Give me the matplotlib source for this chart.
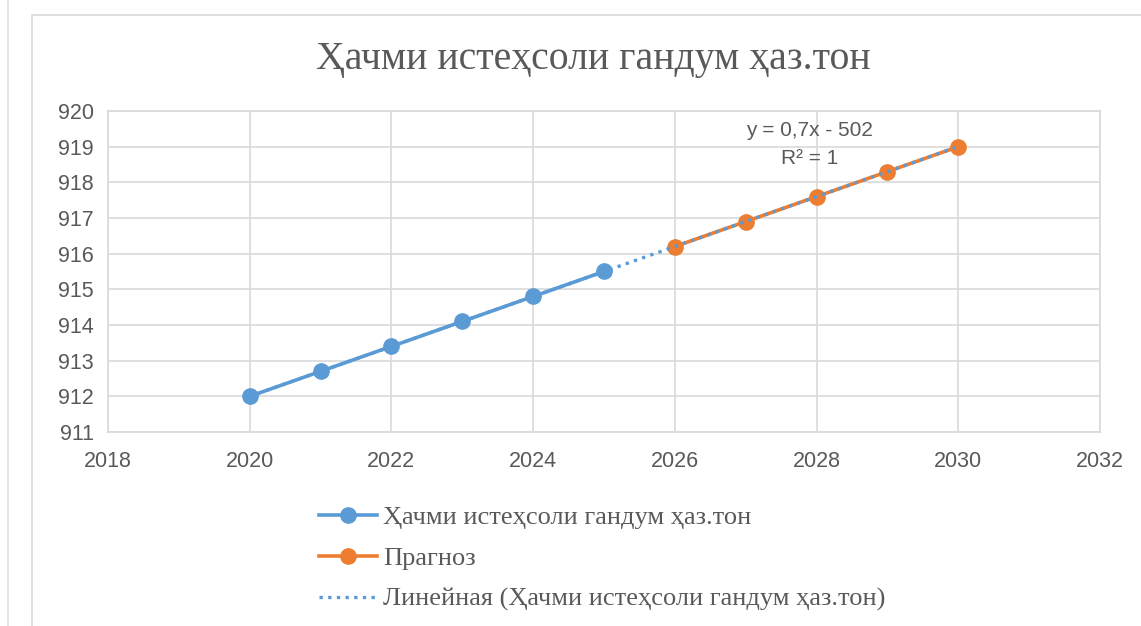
import numpy as np
import matplotlib.pyplot as plt
from matplotlib.lines import Line2D
from matplotlib.patches import Rectangle

# data
years = [2020, 2021, 2022, 2023, 2024, 2025]
volume = [912.0, 912.7, 913.4, 914.1, 914.8, 915.5]
years_fc = [2026, 2027, 2028, 2029, 2030]
forecast = [916.2, 916.9, 917.6, 918.3, 919.0]

title = "Ҳачми истеҳсоли гандум ҳаз.тон"
label_main = "Ҳачми истеҳсоли гандум ҳаз.тон"
label_fc = "Прагноз"
label_trend = "Линейная (Ҳачми истеҳсоли гандум ҳаз.тон)"

blue = "#5B9BD5"
orange = "#ED7D31"
grid = "#D9D9D9"
txt = "#595959"
serif = "Liberation Serif"
sans = "Liberation Sans"

fig = plt.figure(figsize=(11.41, 6.26), dpi=100)

# outer frame of the pasted chart
fig.add_artist(Line2D([8/1141, 8/1141], [0, 1], color="#E0E0E0", lw=1.2,
                      transform=fig.transFigure))
fig.add_artist(Rectangle((32/1141, -0.1), 1.2, (626-15)/626 + 0.1, fill=False,
                         edgecolor="#D9D9D9", lw=1.2, transform=fig.transFigure))

ax = fig.add_axes([108/1141, 1 - 432/626, (1100-108)/1141, (432-111)/626])

# linear trend through the first series, carried forward
a, b = np.polyfit(years, volume, 1)
tx = np.array([years[0], years_fc[-1]])

ax.plot(years, volume, color=blue, lw=2.6, marker="o", ms=11, zorder=3)
ax.plot(years_fc, forecast, color=orange, lw=2.6, marker="o", ms=11, zorder=3)
ax.plot(tx, a*tx + b, color=blue, lw=2.4, ls=(0, (1, 1.6)), zorder=4)

ax.set_xlim(2018, 2032)
ax.set_ylim(911, 920)
ax.set_xticks(range(2018, 2033, 2))
ax.set_yticks(range(911, 921))
ax.grid(True, color=grid, lw=1.2)
ax.set_axisbelow(True)
for s in ax.spines.values():
    s.set_color(grid)
    s.set_linewidth(1.2)
ax.tick_params(length=0, labelsize=15.5, labelcolor=txt, pad=10)
for lab in ax.get_xticklabels() + ax.get_yticklabels():
    lab.set_fontfamily(sans)
ax.tick_params(axis="x", pad=14)

ax.text(2027.9, 919.45, "y = 0,7x - 502", ha="center", va="center",
        fontsize=15, color=txt, family=sans)
ax.text(2027.9, 918.66, "R² = 1", ha="center", va="center",
        fontsize=15, color=txt, family=sans)

fig.text(593/1141, 1 - 60/626, title, ha="center", va="center",
         fontsize=28.6, color=txt, family=serif)

handles = [
    Line2D([], [], color=blue, lw=2.6, marker="o", ms=11),
    Line2D([], [], color=orange, lw=2.6, marker="o", ms=11),
    Line2D([], [], color=blue, lw=2.4, ls=(0, (1, 1.6))),
]
leg = fig.legend(handles, [label_main, label_fc, label_trend],
                 loc="upper left", bbox_to_anchor=(308/1141, 1 - 495/626),
                 frameon=False, prop={"family": serif, "size": 19},
                 handlelength=2.2, handletextpad=0.25, labelspacing=0.66,
                 borderaxespad=0)
for t in leg.get_texts():
    t.set_color(txt)

fig.savefig("out.png", dpi=100)
